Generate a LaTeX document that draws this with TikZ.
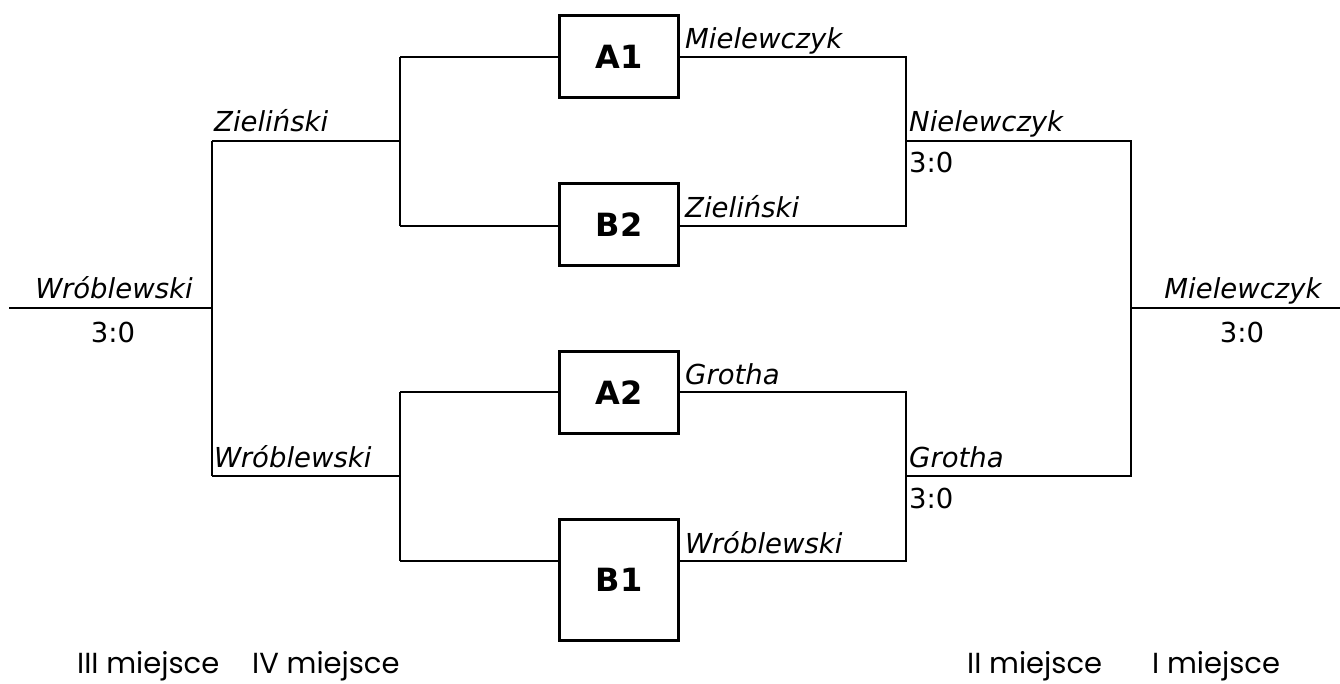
\documentclass[tikz,border=0pt]{standalone}
\usepackage{fontspec}
\setmainfont{DejaVu Sans}
\newfontfamily\placefont{Poppins}
\usepackage{tikz}
\usetikzlibrary{calc,positioning}

\begin{document}
\begin{tikzpicture}[x=1pt,y=-1pt]
	\tikzstyle{every node} = [inner sep = 0pt]
	\tikzstyle{game} = [draw = black, line width = 3pt, minimum width = 119pt, minimum height = 82pt, font = \fontsize{32}{36}\selectfont\bfseries]
	\tikzstyle{player} = [font = \fontsize{27.5}{32}\selectfont\itshape]
	\tikzstyle{score} = [font = \fontsize{27.5}{32}\selectfont]
	\tikzstyle{place} = [font = \fontsize{29}{34}\selectfont\placefont]
	\tikzstyle{link} = [line width = 2pt]
\useasboundingbox (0,0) rectangle (1340,684);
% boxes
\node[game] (A1) at (619, 56.5) {A1};
\node[game] (B2) at (619, 224.5) {B2};
\node[game] (A2) at (619, 392.5) {A2};
\node[game, minimum height = 121pt] (B1) at (619, 580) {B1};
% corners of the bracket
\coordinate (l0) at (9, 308);
\coordinate (l1) at (212, 308);
\coordinate (lt) at (212, 141);
\coordinate (lb) at (212, 476);
\coordinate (qt) at (400, 141);
\coordinate (qb) at (400, 476);
\coordinate (qta) at (400, 57);
\coordinate (qtb) at (400, 226);
\coordinate (qba) at (400, 392);
\coordinate (qbb) at (400, 561);
\coordinate (rta) at (906, 57);
\coordinate (rtb) at (906, 226);
\coordinate (rba) at (906, 392);
\coordinate (rbb) at (906, 561);
\coordinate (rt) at (906, 141);
\coordinate (rb) at (906, 476);
\coordinate (st) at (1131, 141);
\coordinate (sb) at (1131, 476);
\coordinate (s1) at (1131, 308);
\coordinate (s0) at (1340, 308);
% left half
	\path[draw, link] (l0) -- (l1);
	\path[draw, link] (lt) -- (lb);
	\path[draw, link] (lt) -- (qt) (lb) -- (qb);
	\path[draw, link] (qta) -- (qtb) (qba) -- (qbb);
	\path[draw, link] (qta) -- (qta -| A1.west);
	\path[draw, link] (qtb) -- (qtb -| B2.west);
	\path[draw, link] (qba) -- (qba -| A2.west);
	\path[draw, link] (qbb) -- (qbb -| B1.west);
% right half
	\path[draw, link] (rta -| A1.east) -- (rta) -- (rtb) -- (rtb -| B2.east);
	\path[draw, link] (rba -| A2.east) -- (rba) -- (rbb) -- (rbb -| B1.east);
	\path[draw, link] (rt) -- (st) -- (sb) -- (rb);
	\path[draw, link] (s1) -- (s0);
% names and scores
\node[player, anchor = base] (n1) at (114, 299) {Wróblewski};
\node[score, anchor = base] (c1) at (113, 342) {3:0};
\node[player, anchor = base west] (n2) at (214, 132) {Zieliński};
\node[player, anchor = base west] (n3) at (214, 467) {Wróblewski};
\node[player, anchor = base west] (n4) at (685, 49) {Mielewczyk};
\node[player, anchor = base west] (n5) at (685, 218) {Zieliński};
\node[player, anchor = base west] (n6) at (685, 384) {Grotha};
\node[player, anchor = base west] (n7) at (685, 553) {Wróblewski};
\node[player, anchor = base west] (n8) at (909, 132) {Nielewczyk};
\node[score, anchor = base west] (c8) at (909, 173) {3:0};
\node[player, anchor = base west] (n9) at (909, 467) {Grotha};
\node[score, anchor = base west] (c9) at (909, 508) {3:0};
\node[player, anchor = base] (n10) at (1243, 299) {Mielewczyk};
\node[score, anchor = base] (c10) at (1242, 342) {3:0};
% places
\node[place, anchor = base west] (p3) at (77, 673) {III miejsce};
\node[place, anchor = base west] (p4) at (252, 673) {IV miejsce};
\node[place, anchor = base west] (p2) at (967, 673) {II miejsce};
\node[place, anchor = base west] (p1) at (1152, 673) {I miejsce};
	\end{tikzpicture}
\end{document}
